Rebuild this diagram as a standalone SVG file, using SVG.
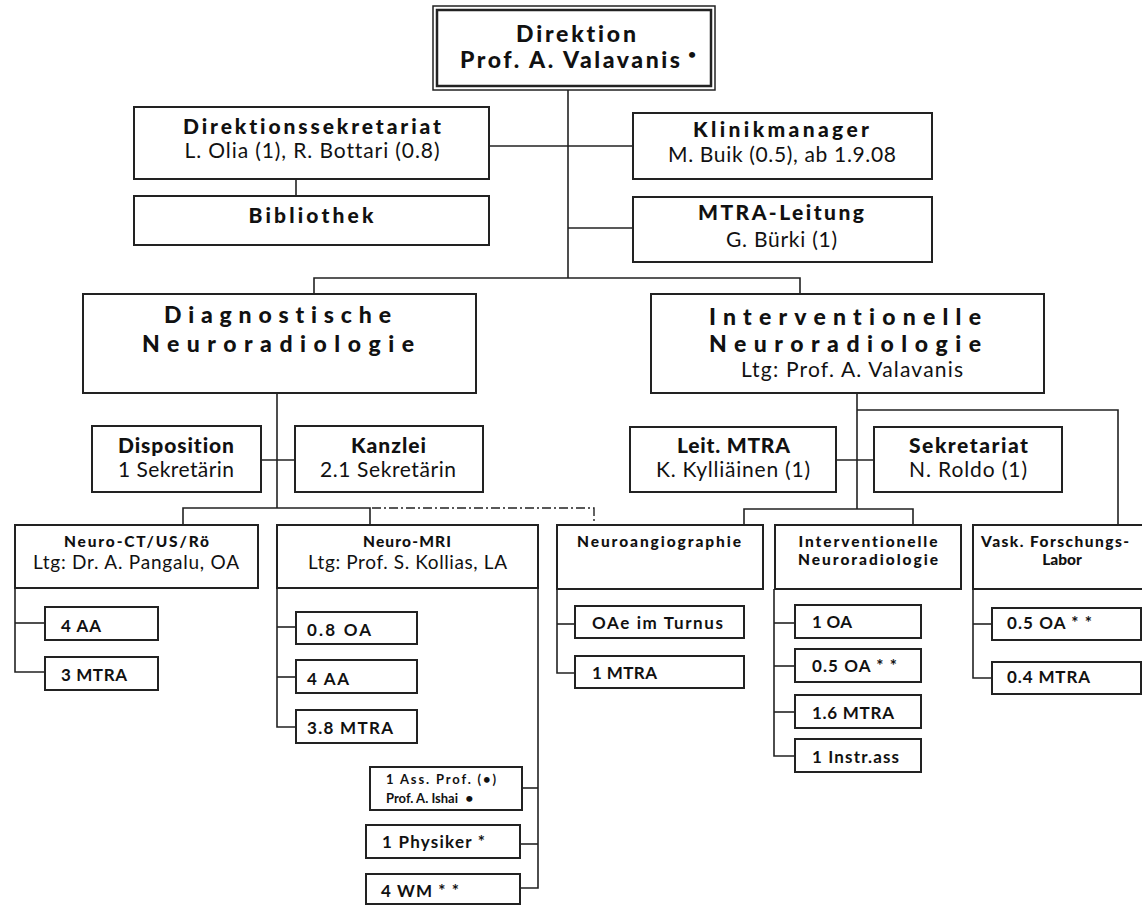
<svg xmlns="http://www.w3.org/2000/svg" width="1142" height="905" viewBox="0 0 1142 905">
<style>
.box{fill:#fff;stroke:#222;stroke-width:2}
.ln{fill:none;stroke:#222;stroke-width:1.6}
.dd{fill:none;stroke:#222;stroke-width:1.4;stroke-dasharray:9 3 2 3}
text{font-family:Lato,"Open Sans","Liberation Sans",sans-serif;fill:#111;font-variant-ligatures:none;font-feature-settings:"liga" 0}
.h{font-weight:900;font-size:21px;text-anchor:middle}
.r{font-weight:400;font-size:21px;text-anchor:middle}
.t{font-weight:900;font-size:23px;text-anchor:middle}
.s{font-weight:900;font-size:15.5px;text-anchor:middle}
.sr{font-weight:400;font-size:19px;text-anchor:middle}
.i{font-weight:700;font-size:17px}
.x{font-weight:700;font-size:13px}
</style>
<rect width="1142" height="905" fill="#fff"/>
<g id="connectors">
<polyline class="ln" points="568,90 568,278"/>
<polyline class="ln" points="489,146 633,146"/>
<polyline class="ln" points="296,179 296,196"/>
<polyline class="ln" points="568,228 633,228"/>
<polyline class="ln" points="314,294 314,278 800,278 800,294"/>
<polyline class="ln" points="277,393 277,508"/>
<polyline class="ln" points="261,460 295,460"/>
<polyline class="ln" points="183,525 183,508 370,508 370,525"/>
<polyline class="dd" points="372,508 594,508 594,525"/>
<polyline class="ln" points="857,393 857,509"/>
<polyline class="ln" points="857,410 1118,410 1118,525"/>
<polyline class="ln" points="836,460 874,460"/>
<polyline class="ln" points="744,525 744,509 913,509 913,525"/>
<polyline class="ln" points="15,588 15,672 45,672"/>
<polyline class="ln" points="15,623 45,623"/>
<polyline class="ln" points="277,588 277,727 296,727"/>
<polyline class="ln" points="277,627 296,627"/>
<polyline class="ln" points="277,677 296,677"/>
<polyline class="ln" points="538,588 538,888 520,888"/>
<polyline class="ln" points="538,788 522,788"/>
<polyline class="ln" points="538,844 520,844"/>
<polyline class="ln" points="557,589 557,673 575,673"/>
<polyline class="ln" points="557,624 575,624"/>
<polyline class="ln" points="774,589 774,756 795,756"/>
<polyline class="ln" points="774,623 795,623"/>
<polyline class="ln" points="774,666 795,666"/>
<polyline class="ln" points="774,712 795,712"/>
<polyline class="ln" points="973,589 973,678 992,678"/>
<polyline class="ln" points="973,624 992,624"/>
</g>
<g id="direktion">
<rect x="433" y="6" width="282" height="84" fill="#fff" stroke="#222" stroke-width="1.5"/>
<rect x="437" y="10" width="274" height="76" fill="none" stroke="#222" stroke-width="2.5"/>
<text class="t" x="576" y="42" textLength="120" lengthAdjust="spacing">Direktion</text>
<text class="t" x="570" y="68" textLength="220" lengthAdjust="spacing">Prof. A. Valavanis</text>
<text x="692" y="59" font-size="14" font-weight="700" text-anchor="middle">•</text>
</g>
<g id="direktionssekretariat">
<rect class="box" x="134" y="107" width="355" height="72"/>
<text class="h" x="312" y="134" textLength="258" lengthAdjust="spacing">Direktionssekretariat</text>
<text class="r" x="312" y="158" textLength="255" lengthAdjust="spacing">L. Olia (1), R. Bottari (0.8)</text>
</g>
<g id="bibliothek">
<rect class="box" x="134" y="196" width="355" height="49"/>
<text class="h" x="311" y="223" textLength="125" lengthAdjust="spacing">Bibliothek</text>
</g>
<g id="klinikmanager">
<rect class="box" x="633" y="113" width="299" height="66"/>
<text class="h" x="781" y="137" textLength="176" lengthAdjust="spacing">Klinikmanager</text>
<text class="r" x="782" y="162" textLength="228" lengthAdjust="spacing">M. Buik (0.5), ab 1.9.08</text>
</g>
<g id="mtra-leitung">
<rect class="box" x="633" y="197" width="299" height="65"/>
<text class="h" x="781" y="220" textLength="166" lengthAdjust="spacing">MTRA-Leitung</text>
<text class="r" x="781.5" y="247" textLength="111" lengthAdjust="spacing">G. Bürki (1)</text>
</g>
<g id="diagnostische">
<rect class="box" x="83" y="294" width="393" height="99"/>
<text class="t" x="277.5" y="323" textLength="227" lengthAdjust="spacing">Diagnostische</text>
<text class="t" x="278" y="352" textLength="272" lengthAdjust="spacing">Neuroradiologie</text>
</g>
<g id="interventionelle">
<rect class="box" x="651" y="294" width="393" height="99"/>
<text class="t" x="845" y="325" textLength="272" lengthAdjust="spacing">Interventionelle</text>
<text class="t" x="845" y="352" textLength="272" lengthAdjust="spacing">Neuroradiologie</text>
<text class="r" x="852" y="377" textLength="222" lengthAdjust="spacing">Ltg: Prof. A. Valavanis</text>
</g>
<g id="disposition">
<rect class="box" x="92" y="426" width="169" height="66"/>
<text class="h" x="176" y="453" textLength="116" lengthAdjust="spacing">Disposition</text>
<text class="r" x="176" y="477" textLength="116" lengthAdjust="spacing">1 Sekretärin</text>
</g>
<g id="kanzlei">
<rect class="box" x="295" y="426" width="188" height="66"/>
<text class="h" x="388.5" y="453" textLength="75" lengthAdjust="spacing">Kanzlei</text>
<text class="r" x="388" y="477" textLength="136" lengthAdjust="spacing">2.1 Sekretärin</text>
</g>
<g id="leit-mtra">
<rect class="box" x="630" y="427" width="206" height="65"/>
<text class="h" x="733.5" y="453" textLength="113" lengthAdjust="spacing">Leit. MTRA</text>
<text class="r" x="733" y="477" textLength="154" lengthAdjust="spacing">K. Kylliäinen (1)</text>
</g>
<g id="sekretariat">
<rect class="box" x="874" y="427" width="188" height="65"/>
<text class="h" x="968.5" y="453" textLength="119" lengthAdjust="spacing">Sekretariat</text>
<text class="r" x="968" y="477" textLength="118" lengthAdjust="spacing">N. Roldo (1)</text>
</g>
<g id="neuro-ct">
<rect class="box" x="15" y="525" width="243" height="63"/>
<text class="s" x="136.5" y="547" textLength="145" lengthAdjust="spacing">Neuro-CT/US/Rö</text>
<text class="sr" x="136" y="569" textLength="206" lengthAdjust="spacing">Ltg: Dr. A. Pangalu, OA</text>
</g>
<g id="neuro-ct-4aa"><rect class="box" x="45" y="607" width="113" height="33"/><text class="i" x="61" y="632" textLength="40" lengthAdjust="spacing">4 AA</text></g>
<g id="neuro-ct-3mtra"><rect class="box" x="45" y="657" width="113" height="33"/><text class="i" x="61" y="681" textLength="66" lengthAdjust="spacing">3 MTRA</text></g>
<g id="neuro-mri">
<rect class="box" x="277" y="525" width="261" height="63"/>
<text class="s" x="407" y="547" textLength="88" lengthAdjust="spacing">Neuro-MRI</text>
<text class="sr" x="407.5" y="569" textLength="199" lengthAdjust="spacing">Ltg: Prof. S. Kollias, LA</text>
</g>
<g id="mri-08oa"><rect class="box" x="296" y="612" width="121" height="32"/><text class="i" x="307" y="636" textLength="64" lengthAdjust="spacing">0.8 OA</text></g>
<g id="mri-4aa"><rect class="box" x="296" y="660" width="121" height="33"/><text class="i" x="307" y="685" textLength="42" lengthAdjust="spacing">4 AA</text></g>
<g id="mri-38mtra"><rect class="box" x="296" y="710" width="121" height="33"/><text class="i" x="307" y="734" textLength="86" lengthAdjust="spacing">3.8 MTRA</text></g>
<g id="mri-assprof">
<rect class="box" x="370" y="767" width="152" height="43"/>
<text class="x" x="386" y="784" textLength="110" lengthAdjust="spacing">1 Ass. Prof. (•)</text>
<text class="x" x="386" y="803">Prof. A. Ishai <tspan font-size="14" dx="4">•</tspan></text>
</g>
<g id="mri-physiker"><rect class="box" x="366" y="825" width="154" height="33"/><text class="i" x="382" y="848" font-size="18" textLength="103" lengthAdjust="spacing">1 Physiker *</text></g>
<g id="mri-wm"><rect class="box" x="366" y="874" width="154" height="30"/><text class="i" x="381" y="897" font-size="18" textLength="78" lengthAdjust="spacing">4 WM * *</text></g>
<g id="neuroangiographie">
<rect class="box" x="557" y="525" width="206" height="64"/>
<text class="s" x="659" y="547" textLength="164" lengthAdjust="spacing">Neuroangiographie</text>
</g>
<g id="angio-oae"><rect class="box" x="575" y="606" width="169" height="32"/><text class="i" x="592" y="629" textLength="131" lengthAdjust="spacing">OAe im Turnus</text></g>
<g id="angio-1mtra"><rect class="box" x="575" y="656" width="169" height="32"/><text class="i" x="592" y="679" textLength="65" lengthAdjust="spacing">1 MTRA</text></g>
<g id="interventionelle-sub">
<rect class="box" x="775" y="525" width="186" height="64"/>
<text class="s" x="868" y="547" textLength="139" lengthAdjust="spacing">Interventionelle</text>
<text class="s" x="868" y="565" textLength="140" lengthAdjust="spacing">Neuroradiologie</text>
</g>
<g id="int-1oa"><rect class="box" x="795" y="605" width="126" height="33"/><text class="i" x="812" y="628" textLength="40" lengthAdjust="spacing">1 OA</text></g>
<g id="int-05oa"><rect class="box" x="795" y="649" width="126" height="33"/><text class="i" x="812" y="672" textLength="85" lengthAdjust="spacing">0.5 OA * *</text></g>
<g id="int-16mtra"><rect class="box" x="795" y="695" width="126" height="33"/><text class="i" x="812" y="719" textLength="82" lengthAdjust="spacing">1.6 MTRA</text></g>
<g id="int-instr"><rect class="box" x="795" y="739" width="126" height="33"/><text class="i" x="812" y="763" textLength="87" lengthAdjust="spacing">1 Instr.ass</text></g>
<g id="vask">
<rect class="box" x="973" y="525" width="185" height="64"/>
<text class="s" x="1055" y="547" textLength="148" lengthAdjust="spacing">Vask. Forschungs-</text>
<text class="s" x="1062" y="565">Labor</text>
</g>
<g id="vask-05oa"><rect class="box" x="992" y="608" width="149" height="32"/><text class="i" x="1007" y="629" textLength="85" lengthAdjust="spacing">0.5 OA * *</text></g>
<g id="vask-04mtra"><rect class="box" x="992" y="662" width="149" height="32"/><text class="i" x="1007" y="683" textLength="83" lengthAdjust="spacing">0.4 MTRA</text></g>
</svg>
